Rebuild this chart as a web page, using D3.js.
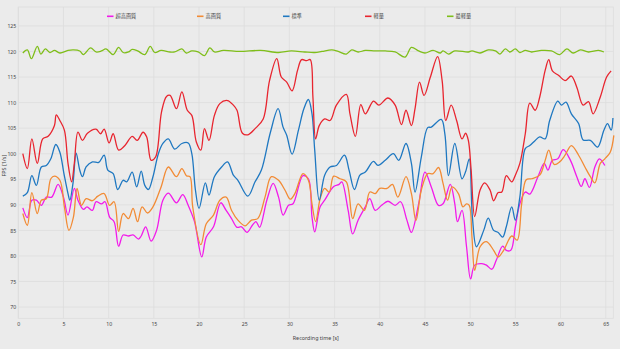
<!DOCTYPE html>
<html><head><meta charset="utf-8">
<script src="https://cdn.jsdelivr.net/npm/d3@7"></script>
<style>
html,body{margin:0;padding:0;background:#ebebeb;}
svg{display:block;font-family:"Noto Sans CJK JP","Noto Sans",sans-serif;}
</style></head>
<body>
<svg id="c" width="620" height="349"></svg>
<script>
const seriesNames = ["超高画質","高画質","標準","軽量","最軽量"];
const seriesColors = ["#f21bea","#f28b35","#1f78c1","#e8252f","#7fbe1a"];
const xTicks = [0,5,10,15,20,25,30,35,40,45,50,55,60,65];
const yTicks = [70,75,80,85,90,95,100,105,110,115,120,125];

const ultra = [[0.5,89.4],[1.0,87.5],[1.5,90.9],[2.0,90.9],[2.55,89.9],[3.1,91.5],[3.7,91.5],[4.4,94.0],[5.0,91.5],[5.5,88.0],[6.2,93.2],[6.6,90.9],[7.2,89.1],[7.6,89.6],[8.2,88.9],[8.6,90.6],[9.2,90.2],[9.6,90.6],[10.1,87.6],[10.6,86.7],[11.1,81.9],[11.6,84.1],[12.2,83.9],[12.7,84.1],[13.3,83.3],[13.6,83.9],[14.1,85.7],[14.7,82.9],[15.3,85.0],[16.0,90.9],[16.6,92.3],[17.5,90.4],[18.2,92.0],[18.8,89.9],[19.5,86.7],[20.3,79.8],[20.8,83.7],[21.6,85.7],[22.4,90.4],[23.0,88.9],[23.6,87.3],[24.2,85.6],[24.7,85.7],[25.3,84.6],[25.9,86.0],[26.3,86.7],[26.7,85.6],[27.5,90.9],[28.2,94.2],[28.8,91.5],[29.3,88.0],[29.9,89.9],[30.4,90.2],[31.5,95.7],[32.1,95.1],[32.5,87.6],[32.8,84.7],[33.4,89.6],[33.9,90.9],[34.9,93.6],[35.5,94.0],[35.8,94.5],[36.5,88.9],[37.0,84.3],[37.6,87.0],[38.4,89.6],[38.9,91.2],[39.5,88.9],[40.2,89.9],[40.9,90.7],[41.7,89.9],[42.3,90.6],[43.0,87.0],[43.5,84.6],[44.3,90.2],[45.0,96.4],[45.7,93.5],[46.5,89.9],[47.0,90.2],[47.8,94.0],[48.3,90.2],[48.6,86.7],[49.1,88.9],[49.6,81.8],[50.05,75.5],[50.5,78.2],[51.3,78.5],[51.8,78.2],[52.4,77.4],[52.9,79.2],[53.6,81.9],[54.0,81.1],[54.5,81.1],[55.0,85.7],[55.5,90.2],[56.1,92.5],[56.6,92.1],[57.5,95.5],[58.2,98.1],[58.6,96.8],[59.1,98.7],[59.7,99.0],[60.3,100.8],[61.1,98.7],[61.8,95.5],[62.3,93.6],[62.7,95.1],[63.2,93.4],[63.8,97.4],[64.3,99.0],[64.9,97.7]];

const high = [[0.5,88.3],[1.0,86.0],[1.5,92.4],[2.1,88.3],[2.55,90.9],[3.1,91.2],[3.6,95.1],[4.0,95.6],[4.6,94.8],[5.1,89.6],[5.6,85.0],[6.1,87.6],[6.5,93.2],[7.0,89.9],[7.5,91.2],[8.2,90.8],[8.8,91.7],[9.5,92.2],[10.1,89.9],[10.6,90.6],[11.1,84.8],[11.6,88.3],[12.2,87.3],[12.7,89.3],[13.2,86.7],[13.7,89.6],[14.3,88.4],[14.9,89.6],[15.8,93.5],[16.6,97.4],[17.5,95.5],[18.1,97.1],[18.6,95.7],[19.0,95.5],[19.3,89.6],[20.2,82.2],[20.8,86.3],[21.6,88.0],[22.3,90.9],[23.0,91.5],[23.6,88.9],[24.3,87.0],[25.1,85.9],[25.8,87.0],[26.5,87.3],[27.3,91.5],[28.0,95.5],[28.8,94.8],[29.5,92.9],[30.1,91.1],[30.6,92.2],[31.5,96.1],[32.1,94.8],[32.5,90.2],[32.9,86.7],[33.4,91.2],[33.9,93.2],[34.4,92.5],[34.9,95.6],[35.6,95.1],[36.3,94.5],[37.0,87.3],[37.6,90.2],[38.3,88.9],[38.9,92.5],[39.5,92.2],[40.0,93.2],[40.8,93.2],[41.4,94.0],[42.0,91.5],[42.9,95.5],[43.5,92.2],[44.0,86.9],[44.6,92.9],[45.3,96.1],[45.9,96.1],[46.5,97.3],[47.0,94.2],[47.5,90.9],[48.0,93.5],[48.7,92.2],[49.2,89.6],[49.6,90.2],[49.9,89.9],[50.2,83.7],[50.5,77.2],[51.1,81.8],[51.8,82.8],[52.6,81.1],[53.1,79.8],[53.7,81.1],[54.6,83.9],[55.2,83.1],[55.7,90.2],[56.2,94.9],[56.8,95.1],[57.7,95.8],[58.3,98.7],[58.7,100.7],[59.3,97.9],[59.9,98.4],[60.5,99.7],[61.2,101.6],[62.0,99.7],[62.7,97.4],[63.3,95.5],[63.8,94.3],[64.4,98.1],[64.9,99.0],[65.5,100.3],[65.9,103.6]];

const standard = [[0.5,91.7],[1.0,92.4],[1.5,95.7],[2.0,93.8],[2.55,97.4],[3.1,97.7],[3.6,99.0],[4.15,101.8],[4.6,100.3],[5.05,96.1],[5.5,92.2],[5.7,90.9],[6.05,94.2],[6.4,100.1],[6.8,96.8],[7.1,95.5],[7.5,97.4],[8.2,98.4],[8.9,98.3],[9.5,99.7],[9.9,96.8],[10.5,96.1],[11.0,93.0],[11.6,94.8],[12.0,94.5],[12.6,96.4],[13.1,93.5],[13.6,96.6],[14.0,93.8],[14.4,93.0],[14.9,95.5],[15.5,100.0],[16.0,102.0],[16.6,102.9],[17.3,100.9],[18.1,102.0],[18.8,102.1],[19.2,100.0],[19.6,92.9],[20.0,89.3],[20.7,94.3],[21.1,91.9],[21.7,95.5],[22.5,97.4],[23.15,98.4],[23.8,95.8],[24.3,94.8],[25.4,91.7],[26.2,94.5],[26.9,96.8],[27.9,104.2],[28.75,108.8],[29.3,105.2],[29.7,103.6],[30.3,99.9],[31.0,104.6],[31.6,108.8],[32.1,110.6],[32.5,107.8],[32.8,100.7],[33.3,90.9],[33.9,95.8],[34.5,97.4],[35.2,97.7],[36.1,99.7],[36.6,96.8],[37.2,93.0],[37.8,95.8],[38.4,96.4],[39.3,98.5],[39.8,97.7],[40.6,98.7],[41.5,100.0],[42.1,98.7],[42.9,102.0],[43.5,98.1],[43.9,92.5],[44.6,99.4],[45.3,105.1],[45.7,105.2],[46.8,106.7],[47.2,103.9],[47.6,95.7],[48.3,102.0],[49.1,95.1],[49.5,96.5],[49.9,99.0],[50.25,87.6],[50.7,81.8],[51.5,85.0],[52.0,87.4],[52.6,85.0],[53.1,84.6],[53.6,83.7],[54.0,85.7],[54.6,89.6],[55.0,87.0],[55.5,91.5],[56.1,101.0],[56.6,101.6],[57.2,102.6],[57.7,103.3],[58.3,102.9],[58.8,106.5],[59.7,110.3],[60.1,109.5],[60.6,110.1],[61.2,107.8],[62.0,105.9],[62.5,102.7],[63.3,102.6],[64.1,101.3],[64.8,104.6],[65.2,105.9],[65.6,104.6],[65.8,107.0]];

const light = [[0.5,100.0],[1.0,97.1],[1.5,102.9],[2.1,98.1],[2.7,102.9],[3.3,103.4],[4.0,105.5],[4.2,107.6],[4.6,106.5],[5.1,104.6],[5.5,98.1],[5.9,94.5],[6.2,98.1],[6.6,104.2],[7.1,102.6],[7.65,104.0],[8.6,104.8],[9.1,103.9],[9.5,104.8],[10.05,102.1],[10.5,103.9],[11.1,100.7],[11.8,101.6],[12.6,103.4],[13.15,102.6],[13.8,104.2],[14.2,103.3],[14.7,98.7],[15.2,99.4],[15.85,108.2],[16.4,111.2],[16.8,111.4],[17.5,108.8],[18.1,112.1],[18.7,108.5],[19.2,107.5],[19.7,102.3],[20.2,100.7],[20.6,104.9],[21.1,102.6],[21.7,107.5],[22.3,109.8],[23.15,110.4],[23.8,109.5],[24.2,108.5],[24.8,104.0],[25.4,103.7],[26.2,104.9],[27.1,106.8],[27.8,114.3],[28.6,118.6],[29.1,115.0],[29.7,114.0],[30.3,112.3],[30.9,116.3],[31.35,118.4],[31.9,118.2],[32.3,118.4],[32.6,111.1],[32.9,102.9],[33.3,105.5],[33.9,106.8],[34.5,106.5],[35.2,109.5],[36.3,111.6],[36.7,107.8],[37.3,103.4],[37.9,109.6],[38.4,107.8],[39.3,110.3],[39.9,109.5],[40.9,110.9],[41.7,109.5],[42.4,105.7],[42.9,108.5],[43.5,105.5],[43.9,108.8],[44.4,114.0],[44.9,111.4],[45.6,115.0],[46.4,119.0],[46.9,114.3],[47.3,106.5],[47.9,109.5],[48.5,106.5],[49.1,102.9],[49.5,104.0],[49.8,102.6],[50.1,97.0],[50.5,87.7],[51.1,92.9],[51.6,94.3],[52.2,92.9],[52.6,90.8],[53.1,92.4],[53.5,92.5],[54.0,95.7],[54.6,94.5],[55.0,95.8],[55.5,98.1],[56.1,103.9],[56.6,109.9],[57.2,108.5],[57.7,111.1],[58.3,116.3],[58.7,118.4],[59.1,116.2],[59.8,115.3],[60.5,114.3],[61.2,115.2],[61.8,113.0],[62.5,109.5],[63.1,110.2],[63.6,107.8],[64.4,111.1],[65.1,115.0],[65.6,116.2]];

const lightest = [[0.5,119.7],[1.0,120.3],[1.45,118.6],[2.1,121.0],[2.5,119.5],[3.0,120.5],[3.5,119.8],[4.0,120.2],[4.6,119.7],[5.5,120.2],[6.1,120.3],[6.8,120.1],[7.2,119.4],[8.0,120.7],[8.6,119.9],[9.2,120.1],[9.7,120.5],[10.5,119.4],[11.1,120.8],[11.6,119.8],[12.2,119.9],[12.6,120.4],[13.2,120.1],[14.0,119.4],[14.6,121.0],[15.1,119.8],[15.8,120.2],[16.8,119.9],[17.3,119.9],[18.1,120.5],[18.6,119.7],[19.2,120.1],[19.9,119.9],[20.6,119.2],[21.2,120.7],[21.7,119.9],[22.7,120.2],[24.5,120.0],[26.8,120.2],[28.8,119.8],[30.2,120.1],[31.7,119.9],[32.8,119.8],[33.6,120.0],[34.7,120.3],[35.4,120.0],[36.3,119.5],[36.9,120.3],[37.6,119.9],[38.4,120.2],[39.5,120.1],[40.6,120.1],[41.7,119.9],[42.8,118.9],[43.5,120.8],[44.3,120.1],[45.0,119.7],[45.9,120.2],[46.7,119.7],[47.0,120.1],[47.6,119.5],[48.3,120.1],[49.8,119.9],[50.2,120.1],[51.1,119.7],[52.0,120.3],[52.8,120.1],[53.3,119.5],[53.9,120.5],[54.4,119.9],[55.0,120.5],[55.5,119.8],[56.1,120.2],[56.8,119.9],[57.9,120.2],[59.0,120.1],[59.9,119.4],[60.7,120.5],[61.4,119.7],[62.2,120.3],[63.1,119.9],[64.2,120.2],[64.8,119.9]];

const seriesData = [ultra, high, standard, light, lightest];

const svg = d3.select("#c");
const plot = {left:18.3, right:613.3, top:7, bottom:318.3};
const x = d3.scaleLinear().domain([0, 65.84]).range([plot.left, plot.right]);
const y = d3.scaleLinear().domain([67.8, 128.7]).range([plot.bottom, plot.top]);
const gridColor = "#dddddd";
const textColor = "#444";

// grid
const g = svg.append("g");
g.selectAll(".vg").data(xTicks).join("line")
  .attr("x1", d=>x(d)).attr("x2", d=>x(d)).attr("y1", plot.top).attr("y2", plot.bottom)
  .attr("stroke", gridColor).attr("stroke-width", 0.8);
g.selectAll(".hg").data(yTicks).join("line")
  .attr("x1", plot.left).attr("x2", plot.right).attr("y1", d=>y(d)).attr("y2", d=>y(d))
  .attr("stroke", gridColor).attr("stroke-width", 0.8);
g.append("rect").attr("x", plot.left).attr("y", plot.top)
  .attr("width", plot.right-plot.left).attr("height", plot.bottom-plot.top)
  .attr("fill","none").attr("stroke", gridColor).attr("stroke-width",0.8);

// axes labels via d3 axes
const xAxis = svg.append("g").attr("transform", `translate(0,${plot.bottom})`)
  .call(d3.axisBottom(x).tickValues(xTicks).tickSize(0).tickPadding(4));
const yAxis = svg.append("g").attr("transform", `translate(${plot.left},0)`)
  .call(d3.axisLeft(y).tickValues(yTicks).tickSize(0).tickPadding(2));
[xAxis, yAxis].forEach(a => {
  a.select(".domain").remove();
  a.selectAll("text").attr("fill", textColor).style("font-size","5.2px")
   .style("font-family","'Noto Sans','DejaVu Sans',sans-serif");
});

svg.append("text").attr("x", (plot.left+plot.right)/2).attr("y", 339.5)
  .attr("text-anchor","middle").attr("fill", textColor).style("font-size","5.4px")
  .style("font-family","'Noto Sans',sans-serif").text("Recording time [s]");
svg.append("text").attr("transform", `translate(6,${(plot.top+plot.bottom)/2 + 3}) rotate(-90)`)
  .attr("text-anchor","middle").attr("fill", textColor).style("font-size","5.4px")
  .style("font-family","'Noto Sans',sans-serif").text("FPS [1/s]");

// lines
const line = d3.line().x(d=>x(d[0])).y(d=>y(d[1])).curve(d3.curveCatmullRom.alpha(0.5));
svg.append("g").selectAll("path").data(seriesData).join("path")
  .attr("d", line).attr("fill","none")
  .attr("stroke", (d,i)=>seriesColors[i]).attr("stroke-width", 1.3)
  .attr("stroke-linejoin","round");

// legend
let lx = 107;
const lg = svg.append("g");
seriesNames.forEach((name,i) => {
  lg.append("line").attr("x1", lx).attr("x2", lx+6.5).attr("y1", 16.3).attr("y2", 16.3)
    .attr("stroke", seriesColors[i]).attr("stroke-width", 1.6);
  lg.append("text").attr("x", lx+8.5).attr("y", 18.2).attr("fill", textColor)
    .style("font-size","5.2px").style("font-family","'Noto Sans CJK JP',sans-serif").text(name);
  lx += 74 + 4*name.length;
});
</script>
</body></html>
